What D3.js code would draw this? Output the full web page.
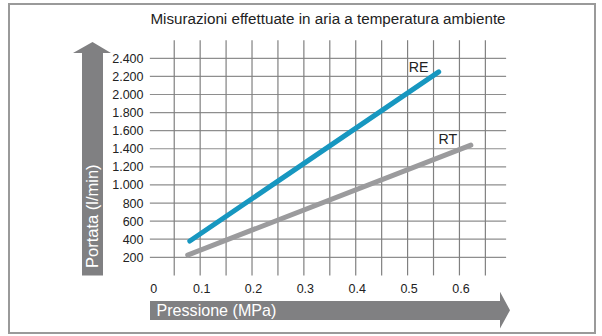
<!DOCTYPE html>
<html>
<head>
<meta charset="utf-8">
<script src="https://cdn.jsdelivr.net/npm/d3@7"></script>
<style>
  html, body { margin: 0; padding: 0; background: #fff; }
  svg { display: block; font-family: "Liberation Sans", Arial, Helvetica, sans-serif; }
</style>
</head>
<body>
<svg id="chart" width="602" height="336"></svg>
<script>
// Flow rate vs pressure, measured in air at ambient temperature
const title = "Misurazioni effettuate in aria a temperatura ambiente";
const seriesNames = ["RE", "RT"];
const rePressure = [0.08, 0.56];
const reFlow = [380, 2250];
const rtPressure = [0.076, 0.622];
const rtFlow = [225, 1440];
const yTicks = [200, 400, 600, 800, 1000, 1200, 1400, 1600, 1800, 2000, 2200, 2400];
const xTicks = [0, 0.1, 0.2, 0.3, 0.4, 0.5, 0.6];
const xGrid = [0.05, 0.1, 0.15, 0.2, 0.25, 0.3, 0.35, 0.4, 0.45, 0.5, 0.55, 0.6, 0.65];
const yLabel = "Portata (l/min)";
const xLabel = "Pressione (MPa)";

const svg = d3.select("#chart");

const x = d3.scaleLinear().domain([0, 0.7]).range([148.3, 511.3]);
const y = d3.scaleLinear().domain([0, 2600]).range([275.4, 40.2]);

const fmtY = v => d3.format(",")(v).replace(/,/g, ".");

// frame
svg.append("rect")
  .attr("x", 9).attr("y", 4).attr("width", 586).attr("height", 329)
  .attr("fill", "none").attr("stroke", "#9a9a9a").attr("stroke-width", 2);

// title
svg.append("text")
  .attr("x", 328).attr("y", 23.5)
  .attr("text-anchor", "middle")
  .attr("font-size", 15.2).attr("fill", "#222")
  .text(title);

// grid
const grid = svg.append("g");
grid.selectAll("line.h").data(yTicks).join("line")
  .attr("class", "h")
  .attr("x1", x(0.003)).attr("x2", x(0.69))
  .attr("y1", d => y(d)).attr("y2", d => y(d))
  .attr("stroke", "#8e8e8e").attr("stroke-width", 1.2);
grid.selectAll("line.v").data(xGrid).join("line")
  .attr("class", "v")
  .attr("x1", d => x(d)).attr("x2", d => x(d))
  .attr("y1", y(0)).attr("y2", y(2600))
  .attr("stroke", "#808080").attr("stroke-width", 1.2);

// y tick labels
svg.append("g").selectAll("text").data(yTicks).join("text")
  .attr("x", 143.5).attr("y", d => y(d))
  .attr("dy", "0.36em")
  .attr("text-anchor", "end")
  .attr("font-size", 12.5).attr("fill", "#222")
  .text(fmtY);

// x tick labels
svg.append("g").selectAll("text").data(xTicks).join("text")
  .attr("x", d => x(d) + (d === 0 ? 5.5 : 1.5)).attr("y", 292.5)
  .attr("text-anchor", "middle")
  .attr("font-size", 12.5).attr("fill", "#222")
  .text(d => d === 0 ? "0" : d3.format(".1f")(d));

// axis arrows
const arrowFill = "#808082";
svg.append("path")
  .attr("d", `M82,${y(0)} L82,53 L73,53 L92.5,42 L111,53 L103,53 L103,${y(0)} Z`)
  .attr("fill", arrowFill);
svg.append("path")
  .attr("d", `M150,301 L500,301 L500,291.7 L510,310.3 L500,328.5 L500,320 L150,320 Z`)
  .attr("fill", arrowFill);

svg.append("text")
  .attr("transform", "translate(97.5,268) rotate(-90)")
  .attr("font-size", 16.5).attr("fill", "#fff")
  .text(yLabel);
svg.append("text")
  .attr("x", 156.5).attr("y", 315.5)
  .attr("font-size", 16.1).attr("fill", "#fff")
  .text(xLabel);

// series lines
const line = d3.line().x(d => x(d[0])).y(d => y(d[1]));
const series = [
  { name: seriesNames[0], pts: d3.zip(rePressure, reFlow), color: "#1797c0" },
  { name: seriesNames[1], pts: d3.zip(rtPressure, rtFlow), color: "#9b9b9d" }
];
svg.append("g").selectAll("path").data(series).join("path")
  .attr("d", d => line(d.pts))
  .attr("fill", "none")
  .attr("stroke", d => d.color)
  .attr("stroke-width", 5)
  .attr("stroke-linecap", "round");

// series labels, placed just left of each line's end
svg.append("text")
  .attr("x", x(rePressure[1]) - 20).attr("y", y(reFlow[1]) + 0.5)
  .attr("text-anchor", "middle").attr("font-size", 14.2).attr("fill", "#222")
  .text(seriesNames[0]);
svg.append("text")
  .attr("x", x(rtPressure[1]) - 23).attr("y", y(rtFlow[1]) - 1)
  .attr("text-anchor", "middle").attr("font-size", 14.2).attr("fill", "#222")
  .text(seriesNames[1]);
</script>
</body>
</html>
